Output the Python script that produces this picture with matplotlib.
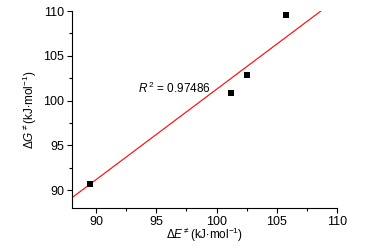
import matplotlib
matplotlib.use("Agg")
import matplotlib.pyplot as plt
import numpy as np
from matplotlib.ticker import MultipleLocator

plt.rcParams['font.family'] = ['Liberation Sans', 'DejaVu Sans']
plt.rcParams['mathtext.fontset'] = 'custom'
plt.rcParams['mathtext.rm'] = 'Liberation Sans'
plt.rcParams['mathtext.it'] = 'Liberation Sans:italic'
plt.rcParams['mathtext.sf'] = 'Liberation Sans'

# data
dE = [89.5, 101.2, 102.5, 105.8]
dG = [90.7, 100.8, 102.9, 109.6]
fit_slope = 1.009
fit_intercept = 0.36
fit_x = [88.0, 110.0]
r2_text = r'$\mathit{R}^{\,2}$ = 0.97486'
xticks = [90, 95, 100, 105, 110]
yticks = [90, 95, 100, 105, 110]

fig = plt.figure(figsize=(3.7, 2.52), dpi=100)
ax = fig.add_axes([0.1946, 0.1746, 0.7162, 0.7817])

fx = np.array(fit_x)
ax.plot(fx, fit_slope * fx + fit_intercept, color='#ff0000', lw=0.8, zorder=2)
ax.scatter(dE, dG, marker='s', s=14, color='black', zorder=3, linewidths=0)

ax.set_xlim(88, 110)
ax.set_ylim(88, 110)
ax.set_xticks(xticks)
ax.set_yticks(yticks)
ax.xaxis.set_minor_locator(MultipleLocator(2.5))
ax.yaxis.set_minor_locator(MultipleLocator(2.5))
ax.tick_params(which='major', direction='out', length=3.5, width=0.8, labelsize=9, pad=2)
ax.tick_params(which='minor', direction='out', length=2, width=0.8)
for s in ['top', 'right']:
    ax.spines[s].set_visible(False)
for s in ['left', 'bottom']:
    ax.spines[s].set_linewidth(0.8)

ax.set_xlabel(r'$\Delta\mathit{E}^{\neq}$(kJ$\cdot$mol$^{-1}$)', fontsize=8.5, labelpad=-1)
ax.set_ylabel(r'$\Delta\mathit{G}^{\neq}$(kJ$\cdot$mol$^{-1}$)', fontsize=8.5, labelpad=3)
ax.text(93.5, 101.4, r2_text, fontsize=8.5, ha='left', va='center')

fig.savefig('out.png', dpi=100)
